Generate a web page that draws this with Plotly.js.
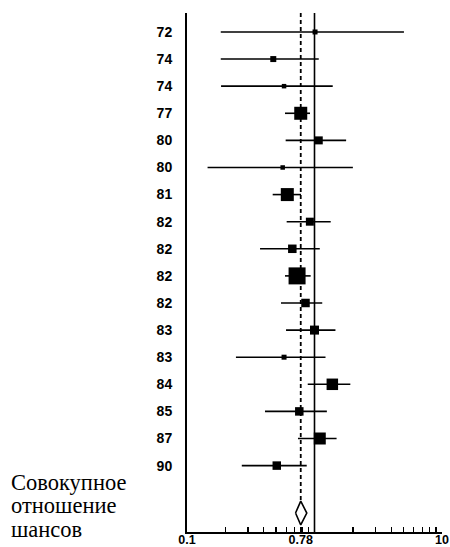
<!DOCTYPE html>
<html>
<head>
<meta charset="utf-8">
<script src="https://cdn.plot.ly/plotly-3.0.1.min.js"></script>
<style>
  html, body { margin: 0; padding: 0; background: #fff; }
  #chart { width: 450px; height: 547px; }
</style>
</head>
<body>
<div id="chart"></div>
<script>
// Study labels (year of publication), top to bottom
const years = ['72', '74', '74', '77', '80', '80', '81', '82', '82', '82', '82', '83', '83', '84', '85', '87', '90'];
// Odds ratios and 95% confidence limits
const oddsRatio = [1.01, 0.475, 0.577, 0.78, 1.08, 0.563, 0.612, 0.92, 0.67, 0.73, 0.85, 1.00, 0.577, 1.38, 0.76, 1.10, 0.506];
const ciLow     = [0.184, 0.184, 0.185, 0.587, 0.594, 0.145, 0.470, 0.605, 0.374, 0.587, 0.546, 0.598, 0.242, 0.885, 0.409, 0.742, 0.269];
const ciHigh    = [5.03, 1.08, 1.39, 0.922, 1.77, 2.00, 0.784, 1.34, 1.10, 0.933, 1.15, 1.46, 1.22, 1.91, 1.25, 1.49, 0.869];
// Relative study weights (drawn as square size)
const weights   = [5, 6, 4.5, 13, 8, 4.5, 13, 8, 8.5, 17, 8.5, 9, 5, 11.5, 8.5, 12, 8.5];
// Pooled estimate
const pooledOR  = 0.78;
const pooledLow = 0.71;
const pooledHigh = 0.87;
// X axis ticks
const tickValues = [0.1, 0.2, 0.3, 0.4, 0.5, 0.6, 0.7, 0.78, 0.8, 0.9, 1, 2, 3, 4, 5, 6, 7, 8, 9, 10];
const tickLabels = ['0.1', '', '', '', '', '', '', '0.78', '', '', '', '', '', '', '', '', '', '', '', '10'];
// Caption lines at the left of the pooled row
const captionLines = ['Совокупное', 'отношение', 'шансов'];

const rows = years.map((_, i) => i);
const pooledRow = years.length + 0.75;
const diamondHalf = 0.44;
const yTop = -0.70, yBottom = 18.45;

const studies = {
  type: 'scatter', mode: 'markers',
  x: oddsRatio, y: rows,
  marker: { symbol: 'square', color: '#000', opacity: 1, size: weights, line: { width: 0 } },
  error_x: {
    type: 'data', symmetric: false,
    array: ciHigh.map((h, i) => h - oddsRatio[i]),
    arrayminus: ciLow.map((l, i) => oddsRatio[i] - l),
    color: '#000', thickness: 1.6, width: 0
  },
  hoverinfo: 'x+y', showlegend: false
};

const diamond = {
  type: 'scatter', mode: 'lines',
  x: [pooledLow, pooledOR, pooledHigh, pooledOR, pooledLow],
  y: [pooledRow, pooledRow - diamondHalf, pooledRow, pooledRow + diamondHalf, pooledRow],
  fill: 'toself', fillcolor: '#fff',
  line: { color: '#000', width: 1.6 },
  showlegend: false, hoverinfo: 'skip'
};

const pooledLine = {
  type: 'scatter', mode: 'lines',
  x: [pooledOR, pooledOR], y: [yTop, pooledRow - diamondHalf],
  line: { color: '#000', width: 1.8, dash: '4px,3px' },
  showlegend: false, hoverinfo: 'skip'
};

const nullLine = {
  type: 'scatter', mode: 'lines',
  x: [1, 1], y: [yTop, yBottom],
  line: { color: '#000', width: 1.6 },
  showlegend: false, hoverinfo: 'skip'
};

const captionY = [0.0963, 0.0501, 0.0039];

const layout = {
  width: 450, height: 547,
  margin: { l: 187, r: 8, t: 13, b: 15 },
  paper_bgcolor: '#fff', plot_bgcolor: '#fff',
  showlegend: false,
  xaxis: {
    type: 'log', range: [-1, 1],
    tickvals: tickValues, ticktext: tickLabels,
    ticks: 'inside', ticklen: 5, tickwidth: 1.4, tickcolor: '#000',
    showline: true, linecolor: '#000', linewidth: 2,
    showgrid: false, zeroline: false,
    ticklabelstandoff: -5,
    tickfont: { family: 'Liberation Sans, Arial, sans-serif', size: 12.5, color: '#000', weight: 'bold' }
  },
  yaxis: {
    range: [yBottom, yTop],
    tickvals: rows, ticktext: years,
    ticks: '', showline: true, linecolor: '#000', linewidth: 2,
    showgrid: false, zeroline: false,
    ticklabelstandoff: 10,
    tickfont: { family: 'Liberation Sans, Arial, sans-serif', size: 14, color: '#000', weight: 'bold' }
  },
  annotations: captionLines.map((t, i) => ({
    xref: 'paper', yref: 'paper', x: -0.698, y: captionY[i],
    xanchor: 'left', yanchor: 'middle', align: 'left', showarrow: false,
    text: t,
    font: { family: 'Liberation Serif, Times New Roman, serif', size: 22.5, color: '#000' }
  }))
};

Plotly.newPlot('chart', [nullLine, pooledLine, diamond, studies], layout, { displayModeBar: false, staticPlot: true });
</script>
</body>
</html>
